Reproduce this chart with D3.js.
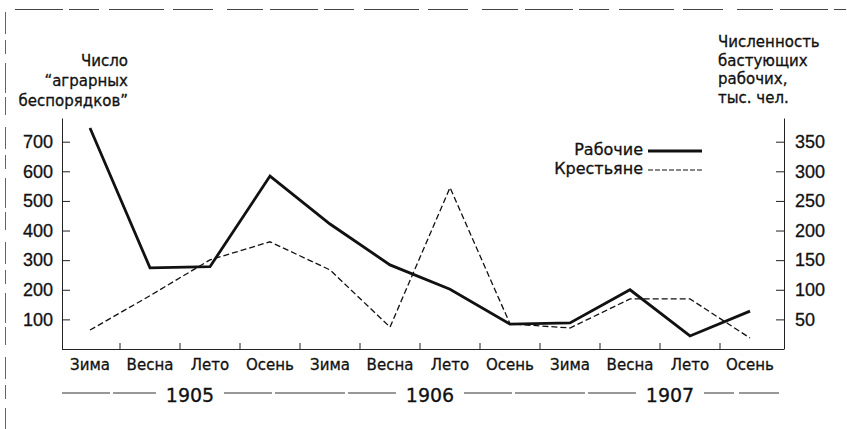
<!DOCTYPE html>
<html>
<head>
<meta charset="utf-8">
<script src="https://cdn.jsdelivr.net/npm/d3@7"></script>
<style>
    body { margin: 0; background: #fff; }
    svg { display: block; font-family: 'DejaVu Sans', sans-serif; }
    svg text { fill: #111; stroke: #111; stroke-width: 0.3px; }
</style>
</head>
<body>
<div id="chart"></div>
<script>
// сезоны и годы
const seasons = ['Зима', 'Весна', 'Лето', 'Осень'];
const years = ['1905', '1906', '1907'];
const categories = years.flatMap(y => seasons.map(s => y + ' ' + s));

// бастующие рабочие, тыс. чел. (правая шкала)
const workers = [373, 137, 139, 292, 211, 142, 101, 42, 44, 100, 22, 64];
// число "аграрных беспорядков" (левая шкала)
const peasants = [64, 180, 301, 362, 267, 74, 545, 85, 71, 169, 169, 37];

const leftTicks = [100, 200, 300, 400, 500, 600, 700];
const rightTicks = [50, 100, 150, 200, 250, 300, 350];

const width = 847;
const height = 429;
const margin = { top: 118, right: 63, bottom: 80, left: 62 };
const baseY = height - margin.bottom; // 349

const svg = d3.select('#chart').append('svg')
    .attr('width', width)
    .attr('height', height);

const scaleX = d3.scalePoint()
    .domain(categories)
    .range([90, 750]);
const scaleL = d3.scaleLinear().domain([0, 780]).range([baseY, margin.top]);
const scaleR = d3.scaleLinear().domain([0, 390]).range([baseY, margin.top]);

// рамка (обрывки от скана)
svg.append('line')
    .attr('x1', 15).attr('x2', 846).attr('y1', 9.5).attr('y2', 9.5)
    .attr('stroke', '#444').attr('stroke-width', 1.2)
    .attr('stroke-dasharray', '48 6 30 10 55 9 40 14 36 7');
svg.append('line')
    .attr('x1', 5.5).attr('x2', 5.5).attr('y1', 12).attr('y2', 429)
    .attr('stroke', '#666').attr('stroke-width', 1)
    .attr('stroke-dasharray', '22 6 14 9 30 4 18 12');

// левая ось
const axisL = d3.axisLeft(scaleL).tickValues(leftTicks)
    .tickSizeInner(-8).tickSizeOuter(0).tickPadding(9);
svg.append('g')
    .attr('transform', `translate(${margin.left}, 0)`)
    .call(axisL)
    .call(g => g.selectAll('text').style('font-size', '18px'))
    .call(g => g.selectAll('path, line').attr('stroke', '#222'));

// правая ось
const axisR = d3.axisRight(scaleR).tickValues(rightTicks)
    .tickSizeInner(-8).tickSizeOuter(0).tickPadding(11);
svg.append('g')
    .attr('transform', `translate(${width - margin.right}, 0)`)
    .call(axisR)
    .call(g => g.selectAll('text').style('font-size', '18px'))
    .call(g => g.selectAll('path, line').attr('stroke', '#222'));

// ось X
const xg = svg.append('g');
xg.append('line')
    .attr('x1', margin.left).attr('x2', width - margin.right)
    .attr('y1', baseY + 0.5).attr('y2', baseY + 0.5)
    .attr('stroke', '#222');
const step = scaleX.step();
xg.selectAll('.xtick')
    .data(categories.slice(1))
    .join('line')
    .classed('xtick', true)
    .attr('x1', d => scaleX(d) - step / 2)
    .attr('x2', d => scaleX(d) - step / 2)
    .attr('y1', baseY).attr('y2', baseY - 6)
    .attr('stroke', '#222');
xg.selectAll('.xlabel')
    .data(categories)
    .join('text')
    .classed('xlabel', true)
    .attr('x', d => scaleX(d))
    .attr('y', 370)
    .attr('text-anchor', 'middle')
    .style('font-size', '15px')
    .text(d => d.split(' ')[1]);

// строка годов
const yearCenter = y => d3.mean(seasons, s => scaleX(y + ' ' + s)) + 10;
const yearRow = 393;
const yearGap = 34;
years.forEach((y, i) => {
    const cx = yearCenter(y);
    svg.append('text')
        .attr('x', cx).attr('y', 402)
        .attr('text-anchor', 'middle')
        .style('font-size', '19px')
        .text(y);
    const left = i === 0 ? margin.left : yearCenter(years[i - 1]) + yearGap;
    svg.append('line')
        .attr('x1', left).attr('x2', cx - yearGap)
        .attr('y1', yearRow).attr('y2', yearRow)
        .attr('stroke', '#333').attr('stroke-dasharray', '48 3 70 3');
});
svg.append('line')
    .attr('x1', yearCenter(years[years.length - 1]) + yearGap).attr('x2', width - margin.right)
    .attr('y1', yearRow).attr('y2', yearRow)
    .attr('stroke', '#333').attr('stroke-dasharray', '30 5 40');

// подписи осей
const titleL = ['Число', '“аграрных', 'беспорядков”'];
svg.append('g').selectAll('text')
    .data(titleL)
    .join('text')
    .attr('x', 128)
    .attr('y', (d, i) => 66 + i * 20)
    .attr('text-anchor', 'end')
    .style('font-size', '15px')
    .text(d => d);

const titleR = ['Численность', 'бастующих', 'рабочих,', 'тыс. чел.'];
svg.append('g').selectAll('text')
    .data(titleR)
    .join('text')
    .attr('x', 718)
    .attr('y', (d, i) => 47 + i * 18.5)
    .style('font-size', '15px')
    .text(d => d);

// линии
const lineL = d3.line().x((d, i) => scaleX(categories[i])).y(d => scaleL(d));
const lineR = d3.line().x((d, i) => scaleX(categories[i])).y(d => scaleR(d));

svg.append('path')
    .datum(peasants)
    .attr('d', lineL)
    .attr('fill', 'none')
    .attr('stroke', '#111')
    .attr('stroke-width', 1.3)
    .attr('stroke-dasharray', '6 3');

svg.append('path')
    .datum(workers)
    .attr('d', lineR)
    .attr('fill', 'none')
    .attr('stroke', '#111')
    .attr('stroke-width', 2.8)
    .attr('stroke-linejoin', 'miter');

// легенда
const legend = [
    { name: 'Рабочие', width: 2.8, dash: null },
    { name: 'Крестьяне', width: 1.2, dash: '5 2' }
];
const lg = svg.append('g').selectAll('g')
    .data(legend)
    .join('g')
    .attr('transform', (d, i) => `translate(0, ${155 + i * 19})`);
lg.append('text')
    .attr('x', 643)
    .attr('text-anchor', 'end')
    .style('font-size', '16px')
    .text(d => d.name);
lg.append('line')
    .attr('x1', 648).attr('x2', 702)
    .attr('y1', -4).attr('y2', -4)
    .attr('stroke', '#111')
    .attr('stroke-width', d => d.width)
    .attr('stroke-dasharray', d => d.dash);
</script>
</body>
</html>
